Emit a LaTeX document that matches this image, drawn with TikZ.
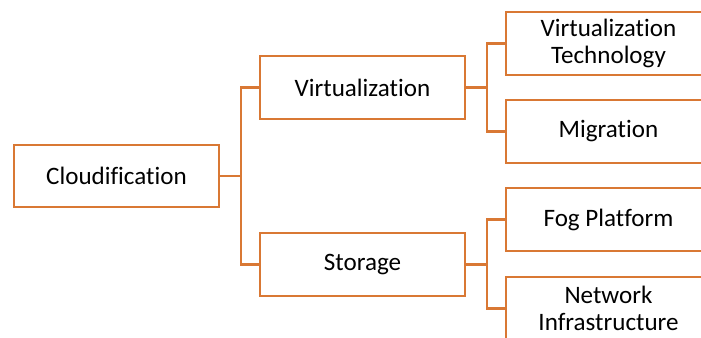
\documentclass[tikz,border=0pt]{standalone}
\usepackage{fontspec}
\setmainfont[Ligatures=NoCommon]{Carlito}
\definecolor{branch}{RGB}{217,120,52}
\begin{document}
\begin{tikzpicture}[x=0.75pt,y=-0.75pt]
\tikzstyle{box}=[draw=branch,line width=1.6pt,minimum width=153.75pt,minimum height=47pt,
  inner sep=0pt,align=center,font=\fontsize{18.8}{20.5}\selectfont]
\tikzstyle{link}=[draw=branch,line width=1.6pt]
\useasboundingbox (0,0) rectangle (701,337);
\clip (0,0) rectangle (701,337);
\node[box] (cloud) at (116.5,176) {Cloudification};
\node[box] (virt) at (362.5,87.5) {Virtualization};
\node[box] (stor) at (362.5,264.5) {Storage};
\node[box] (vtech) at (608.5,43.5) {Virtualization\\Technology};
\node[box] (migr) at (608.5,131.5) {Migration};
\node[box] (fog) at (608.5,219.5) {Fog Platform};
\node[box] (netw) at (608.5,308.5) {Network\\Infrastructure};
% branches
\draw[link] (cloud.east) -- +(20.5,0) |- (virt.west);
\draw[link] (cloud.east) -- +(20.5,0) |- (stor.west);
\draw[link] (virt.east) -- +(20.5,0) |- (vtech.west);
\draw[link] (virt.east) -- +(20.5,0) |- (migr.west);
\draw[link] (stor.east) -- +(20.5,0) |- (fog.west);
\draw[link] (stor.east) -- +(20.5,0) |- (netw.west);
\end{tikzpicture}
\end{document}
